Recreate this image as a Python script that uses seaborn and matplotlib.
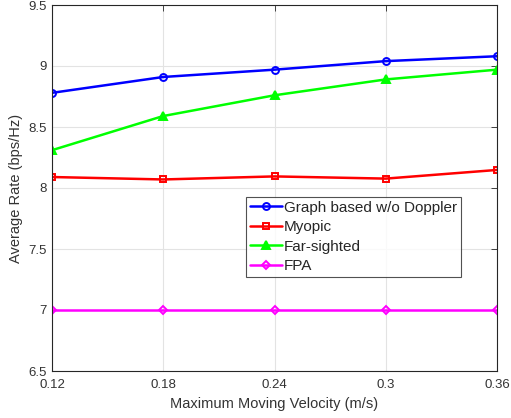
import matplotlib
matplotlib.use("Agg")
import matplotlib.pyplot as plt
import seaborn as sns
import pandas as pd

velocity = [0.12, 0.18, 0.24, 0.3, 0.36]
graph_wo_doppler = [8.78, 8.91, 8.97, 9.04, 9.08]
myopic = [8.09, 8.07, 8.095, 8.077, 8.148]
far_sighted = [8.31, 8.59, 8.76, 8.89, 8.97]
fpa = [7.0, 7.0, 7.0, 7.0, 7.0]
series_names = ["Graph based w/o Doppler", "Myopic", "Far-sighted", "FPA"]
x_ticks = [0.12, 0.18, 0.24, 0.3, 0.36]
x_tick_labels = ["0.12", "0.18", "0.24", "0.3", "0.36"]
y_ticks = [6.5, 7, 7.5, 8, 8.5, 9, 9.5]
y_tick_labels = ["6.5", "7", "7.5", "8", "8.5", "9", "9.5"]

sns.set_style("white")
plt.rcParams["font.family"] = ["Liberation Sans", "DejaVu Sans"]

df = pd.DataFrame({
    "x": velocity * 4,
    "y": graph_wo_doppler + myopic + far_sighted + fpa,
    "s": sum([[n] * len(velocity) for n in series_names], []),
})

colors = {"Graph based w/o Doppler": "#0000ff", "Myopic": "#ff0000",
          "Far-sighted": "#00ff00", "FPA": "#ff00ff"}
markers = {"Graph based w/o Doppler": "o", "Myopic": "s",
           "Far-sighted": "^", "FPA": "D"}
msize = {"Graph based w/o Doppler": 5, "Myopic": 4.5, "Far-sighted": 5.5, "FPA": 4.2}

fig = plt.figure(figsize=(5.11, 4.18), dpi=100)
ax = fig.add_axes([52 / 511, 1 - 371 / 418, (497 - 52) / 511, (371 - 5) / 418])

for name in series_names:
    sub = df[df["s"] == name]
    sns.lineplot(data=sub, x="x", y="y", ax=ax, color=colors[name], lw=1.8,
                 marker=markers[name], markersize=msize[name],
                 markerfacecolor="none", markeredgecolor=colors[name],
                 markeredgewidth=1.4, label=name)
for line in ax.get_lines():
    if line.get_label() == "Far-sighted":
        line.set_markerfacecolor("#00ff00")

ax.set_xlim(0.12, 0.36)
ax.set_ylim(6.5, 9.5)
ax.set_xticks(x_ticks)
ax.set_xticklabels(x_tick_labels)
ax.set_yticks(y_ticks)
ax.set_yticklabels(y_tick_labels)
ax.grid(True, color="#e3e3e3", lw=0.8)
ax.set_axisbelow(True)
for sp in ax.spines.values():
    sp.set_color("#262626")
    sp.set_linewidth(0.8)
ax.tick_params(direction="in", length=4, width=0.6, colors="#262626",
               labelsize=9.5, top=True, right=True)
ax.tick_params(axis="x", pad=6)
ax.tick_params(axis="y", pad=3.5)
for t in ax.get_xticklabels() + ax.get_yticklabels():
    t.set_color("#333333")
ax.set_xlabel("Maximum Moving Velocity (m/s)", fontsize=10.5, color="#333333", labelpad=4)
ax.set_ylabel("Average Rate (bps/Hz)", fontsize=10.5, color="#333333", labelpad=4)

leg = ax.legend(loc="upper left", bbox_to_anchor=((246 - 52) / 445, 1 - (197 - 5) / 366),
                fontsize=11.0, frameon=True, fancybox=False, edgecolor="#262626",
                borderpad=0.25, labelspacing=0.36, handlelength=2.1, handletextpad=0.15,
                borderaxespad=0)
leg.get_frame().set_linewidth(0.8)

fig.savefig("out.png", dpi=100)
